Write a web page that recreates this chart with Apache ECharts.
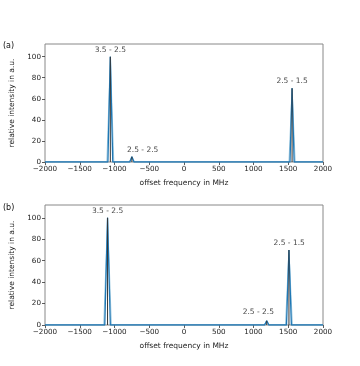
<!DOCTYPE html>
<html>
<head>
<meta charset="utf-8">
<script src="https://cdn.jsdelivr.net/npm/echarts@6/dist/echarts.min.js"></script>
<style>
  html, body { margin: 0; padding: 0; background: #fff; }
  #chart { width: 360px; height: 366px; }
</style>
</head>
<body>
<div id="chart"></div>
<script>
// panel (a): simulated spectrum
const specAx = [-2000, -1095, -1060, -1025, -780, -750, -720, 1525, 1555, 1585, 2000];
const specAy = [0, 0, 100, 0, 0, 5, 0, 0, 70, 0, 0];
const specAxWide = [-2000, -1110, -1060, -1010, -790, -750, -710, 1510, 1555, 1600, 2000];
// panel (b)
const specBx = [-2000, -1140, -1100, -1060, 1160, 1190, 1220, 1475, 1510, 1545, 2000];
const specBy = [0, 0, 100, 0, 0, 4, 0, 0, 70, 0, 0];
const specBxWide = [-2000, -1155, -1100, -1045, 1150, 1190, 1230, 1460, 1510, 1560, 2000];

// stick positions / heights
const sticksAx = [-1060, -750, 1555];
const sticksAy = [100, 5, 70];
const sticksBx = [-1100, 1190, 1510];
const sticksBy = [100, 4, 70];

// transition labels
const labelNames = ['3.5 - 2.5', '2.5 - 2.5', '2.5 - 1.5'];
const labelAx = [-1060, -595, 1555];
const labelAy = [106.5, 11.5, 76.5];
const labelBx = [-1100, 1070, 1513];
const labelBy = [106.5, 12.3, 76.5];

const xTicks = [-2000, 2000, 500];
const yTicks = [0, 112, 20];

const font = 'DejaVu Sans';
const minus = v => (v < 0 ? '\u2212' + (-v) : String(v));
const zip = (xs, ys) => xs.map((x, i) => [x, ys[i]]);

function xAxis(idx) {
  return {
    gridIndex: idx, type: 'value', min: xTicks[0], max: xTicks[1], interval: xTicks[2],
    name: 'offset frequency in MHz', nameLocation: 'middle', nameGap: 17,
    nameTextStyle: { fontFamily: font, fontSize: 7.5, color: '#222' },
    axisLine: { show: false, onZero: false },
    axisTick: { show: true, length: 3, lineStyle: { color: '#333', width: 0.8 } },
    axisLabel: { fontFamily: font, fontSize: 7.2, color: '#222', margin: 4, formatter: minus },
    splitLine: { show: false }
  };
}
function yAxis(idx) {
  return {
    gridIndex: idx, type: 'value', min: yTicks[0], max: yTicks[1], interval: yTicks[2],
    name: 'relative intensity in a.u.', nameLocation: 'middle', nameGap: 23,
    nameTextStyle: { fontFamily: font, fontSize: 7.5, color: '#222' },
    axisLine: { show: false, onZero: false },
    axisTick: { show: true, length: 3, lineStyle: { color: '#333', width: 0.8 } },
    axisLabel: { fontFamily: font, fontSize: 7.2, color: '#222', margin: 4, showMaxLabel: false },
    splitLine: { show: false }
  };
}
function panelSeries(idx, wx, x, y, sx, sy, lx, ly) {
  return [
    { type: 'line', xAxisIndex: idx, yAxisIndex: idx, data: zip(wx, y), showSymbol: false,
      lineStyle: { color: '#9ecae1', width: 1 }, silent: true, z: 2 },
    { type: 'line', xAxisIndex: idx, yAxisIndex: idx, data: zip(x, y), showSymbol: false,
      lineStyle: { color: '#1f77b4', width: 1.3 }, silent: true, z: 3 },
    { type: 'bar', xAxisIndex: idx, yAxisIndex: idx, data: zip(sx, sy), barWidth: 1,
      itemStyle: { color: '#333' }, silent: true, z: 4 },
    { type: 'scatter', xAxisIndex: idx, yAxisIndex: idx, symbolSize: 0,
      data: lx.map((v, i) => ({ value: [v, ly[i]], name: labelNames[i] })),
      label: { show: true, position: 'inside', formatter: p => p.name,
               fontFamily: font, fontSize: 7.5, color: '#111' }, z: 5 }
  ];
}

const chart = echarts.init(document.getElementById('chart'), null, { renderer: 'canvas' });
chart.setOption({
  animation: false,
  backgroundColor: '#fff',
  grid: [
    { left: 45, top: 44, width: 278, height: 118, show: true, borderColor: '#888', borderWidth: 1, backgroundColor: 'transparent' },
    { left: 45, top: 205, width: 278, height: 120, show: true, borderColor: '#888', borderWidth: 1, backgroundColor: 'transparent' }
  ],
  xAxis: [xAxis(0), xAxis(1)],
  yAxis: [yAxis(0), yAxis(1)],
  graphic: [
    { type: 'text', left: 3, top: 42, style: { text: '(a)', font: '8px DejaVu Sans', fill: '#111' } },
    { type: 'text', left: 3, top: 204, style: { text: '(b)', font: '8px DejaVu Sans', fill: '#111' } }
  ],
  series: [].concat(
    panelSeries(0, specAxWide, specAx, specAy, sticksAx, sticksAy, labelAx, labelAy),
    panelSeries(1, specBxWide, specBx, specBy, sticksBx, sticksBy, labelBx, labelBy)
  )
});
</script>
</body>
</html>
